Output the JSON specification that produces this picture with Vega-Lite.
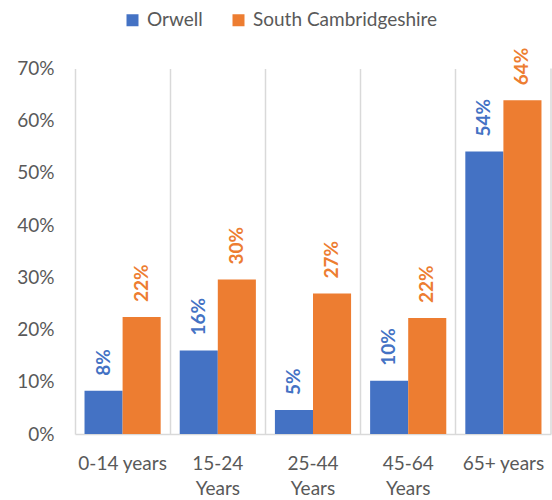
{
  "$schema": "https://vega.github.io/schema/vega-lite/v6.json",
  "width": 476,
  "height": 365.5,
  "autosize": {"type": "none"},
  "padding": {"left": 75, "top": 68.5, "right": 1, "bottom": 66},
  "config": {
    "font": "Lato",
    "view": {"stroke": null},
    "legend": {"labelFont": "Lato"}
  },
  "datasets": {
    "pop": [
      {"age": "0-14 years", "area": "Orwell", "share": 0.083},
      {"age": "0-14 years", "area": "South Cambridgeshire", "share": 0.224},
      {"age": "15-24 Years", "area": "Orwell", "share": 0.160},
      {"age": "15-24 Years", "area": "South Cambridgeshire", "share": 0.296},
      {"age": "25-44 Years", "area": "Orwell", "share": 0.046},
      {"age": "25-44 Years", "area": "South Cambridgeshire", "share": 0.269},
      {"age": "45-64 Years", "area": "Orwell", "share": 0.102},
      {"age": "45-64 Years", "area": "South Cambridgeshire", "share": 0.222},
      {"age": "65+ years", "area": "Orwell", "share": 0.541},
      {"age": "65+ years", "area": "South Cambridgeshire", "share": 0.639}
    ],
    "edge": [{"age": "65+ years"}]
  },
  "layer": [
    {
      "data": {"name": "pop"},
      "mark": {"type": "bar"},
      "encoding": {
        "x": {
          "field": "age", "type": "nominal",
          "scale": {"domain": ["0-14 years", "15-24 Years", "25-44 Years", "45-64 Years", "65+ years"], "paddingInner": 0, "paddingOuter": 0},
          "axis": {
            "title": null, "labelAngle": 0, "labelFontSize": 19, "labelColor": "#595959",
            "ticks": false, "domainColor": "#d9d9d9", "domainWidth": 1.5,
            "grid": true, "gridColor": "#d9d9d9", "gridWidth": 1.5, "bandPosition": 0,
            "labelPadding": 20, "labelLineHeight": 25, "labelLimit": 200,
            "labelExpr": "indexof(datum.label, 'Years') > 0 ? split(datum.label, ' ') : datum.label"
          }
        },
        "xOffset": {
          "field": "area", "type": "nominal",
          "scale": {"domain": ["Orwell", "South Cambridgeshire"], "paddingInner": 0, "paddingOuter": 0.25}
        },
        "y": {
          "field": "share", "type": "quantitative",
          "scale": {"domain": [0, 0.7]},
          "axis": {
            "title": null, "format": ".0%", "values": [0, 0.1, 0.2, 0.3, 0.4, 0.5, 0.6, 0.7],
            "grid": false, "domain": false, "ticks": false, "labelPadding": 21,
            "labelFontSize": 19, "labelColor": "#595959"
          }
        },
        "color": {
          "field": "area", "type": "nominal",
          "scale": {"domain": ["Orwell", "South Cambridgeshire"], "range": ["#4472C4", "#ED7D31"]},
          "legend": {
            "title": null, "orient": "none", "legendX": 48, "legendY": -58, "direction": "horizontal",
            "symbolType": "square", "symbolSize": 144, "symbolStrokeWidth": 0,
            "labelFontSize": 19, "labelColor": "#595959", "columnPadding": 26, "labelOffset": 5,
            "labelLimit": 400
          }
        }
      }
    },
    {
      "data": {"name": "pop"},
      "mark": {"type": "text", "angle": 270, "align": "left", "baseline": "middle", "dx": 15, "fontSize": 19, "fontWeight": "bold"},
      "encoding": {
        "x": {"field": "age", "type": "nominal"},
        "xOffset": {"field": "area", "type": "nominal"},
        "y": {"field": "share", "type": "quantitative"},
        "text": {"field": "share", "type": "quantitative", "format": ".0%"},
        "color": {"field": "area", "type": "nominal"}
      }
    },
    {
      "data": {"name": "edge"},
      "mark": {"type": "rule", "color": "#d9d9d9", "strokeWidth": 1.5},
      "encoding": {
        "x": {"field": "age", "type": "nominal", "bandPosition": 1}
      }
    }
  ]
}
